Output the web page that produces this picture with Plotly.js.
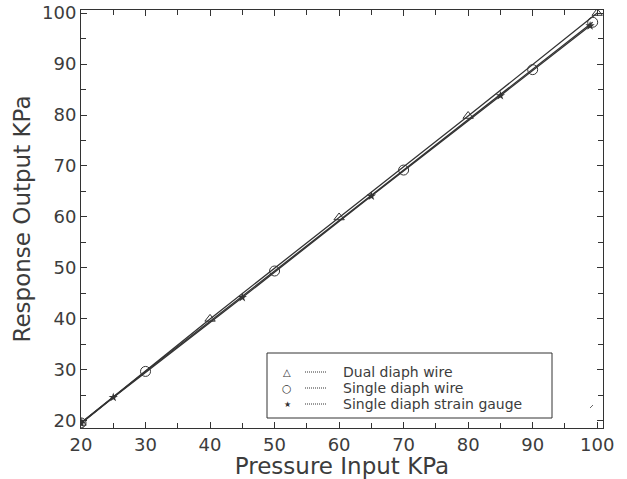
<!DOCTYPE html>
<html>
<head>
<meta charset="utf-8">
<script src="https://cdn.plot.ly/plotly-3.0.1.min.js"></script>
<style>html,body{margin:0;padding:0;background:#fff;}#chart{width:627px;height:479px;}</style>
</head>
<body>
<div id="chart"></div>
<script>
// Data
const dualX  = [20, 40, 60, 80, 100];
const dualY  = [19.6, 40.0, 59.9, 79.8, 100.0];
const wireX  = [20, 30, 50, 70, 90, 99.3];
const wireY  = [19.6, 29.7, 49.4, 69.2, 88.9, 98.2];
const gaugeX = [20, 25, 45, 65, 85, 98.9];
const gaugeY = [19.5, 24.6, 44.2, 64.1, 83.8, 97.5];
const seriesNames = ["Dual diaph wire", "Single diaph wire", "Single diaph strain gauge"];
const xTickVals = [20, 30, 40, 50, 60, 70, 80, 90, 100];
const yTickVals = [20, 30, 40, 50, 60, 70, 80, 90, 100];

const ink = '#333333';
const txt = '#3c3c3c';
const font = 'DejaVu Sans, sans-serif';

const traces = [
  {x: dualX, y: dualY, name: seriesNames[0], mode: 'lines+markers',
   line: {color: ink, width: 1.3}, marker: {symbol: 'triangle-up-open', size: 9, color: ink, line: {width: 1}}},
  {x: wireX, y: wireY, name: seriesNames[1], mode: 'lines+markers',
   line: {color: ink, width: 1.3}, marker: {symbol: 'circle-open', size: 10, color: ink, line: {width: 1}}},
  {x: gaugeX, y: gaugeY, name: seriesNames[2], mode: 'lines+markers',
   line: {color: ink, width: 1.3}, marker: {symbol: 'star', size: 7, color: ink}}
];

// plot area in pixels: x 81..603, y 10..428
const L = 81, R = 603, T = 10, B = 428;
const px = v => (v - L) / (R - L);
const py = v => (B - v) / (B - T);

const rowsY = [372, 388, 404];
const symbols = ['△', '○', '★'];
const symSizes = [10, 11, 8];
const shapes = [
  {type: 'rect', xref: 'paper', yref: 'paper', x0: px(267), x1: px(552), y0: py(418), y1: py(353),
   line: {color: ink, width: 1}, fillcolor: 'rgba(0,0,0,0)'},
  {type: 'line', xref: 'paper', yref: 'paper', x0: px(590), x1: px(593), y0: py(408), y1: py(405),
   line: {color: '#666', width: 1}}
];
const annotations = [];
rowsY.forEach((yy, i) => {
  shapes.push({type: 'line', xref: 'paper', yref: 'paper', x0: px(305), x1: px(327), y0: py(yy), y1: py(yy),
    line: {color: ink, width: 1, dash: '1px,1px'}});
  annotations.push({xref: 'paper', yref: 'paper', x: px(287), y: py(yy), text: symbols[i], showarrow: false,
    xanchor: 'center', yanchor: 'middle', font: {family: font, size: symSizes[i], color: ink}});
  annotations.push({xref: 'paper', yref: 'paper', x: px(341), y: py(yy), text: seriesNames[i], showarrow: false,
    xanchor: 'left', yanchor: 'middle', font: {family: font, size: 14, color: txt}});
});

const axisCommon = {
  showgrid: false, zeroline: false, showline: true, linecolor: ink, linewidth: 1,
  mirror: 'ticks', ticks: 'inside', ticklen: 6, tickcolor: ink, tickwidth: 1,
  tickfont: {family: font, size: 18, color: txt},
  minor: {dtick: 5, ticks: 'inside', ticklen: 5, tickcolor: ink, tickwidth: 1, showgrid: false}
};

const layout = {
  width: 627, height: 479,
  margin: {l: L, r: 627 - R, t: T, b: 479 - B},
  paper_bgcolor: '#fff', plot_bgcolor: '#fff',
  showlegend: false,
  xaxis: Object.assign({}, axisCommon, {
    range: [20, 100.9], tickmode: 'array', tickvals: xTickVals,
    title: {text: 'Pressure Input KPa', font: {family: font, size: 23, color: txt}, standoff: 0}
  }),
  yaxis: Object.assign({}, axisCommon, {
    range: [18.6, 100.6], tickmode: 'array', tickvals: yTickVals,
    title: {text: 'Response Output KPa', font: {family: font, size: 23, color: txt}, standoff: 4}
  }),
  shapes: shapes,
  annotations: annotations
};

Plotly.newPlot('chart', traces, layout, {displayModeBar: false, staticPlot: true});
</script>
</body>
</html>
